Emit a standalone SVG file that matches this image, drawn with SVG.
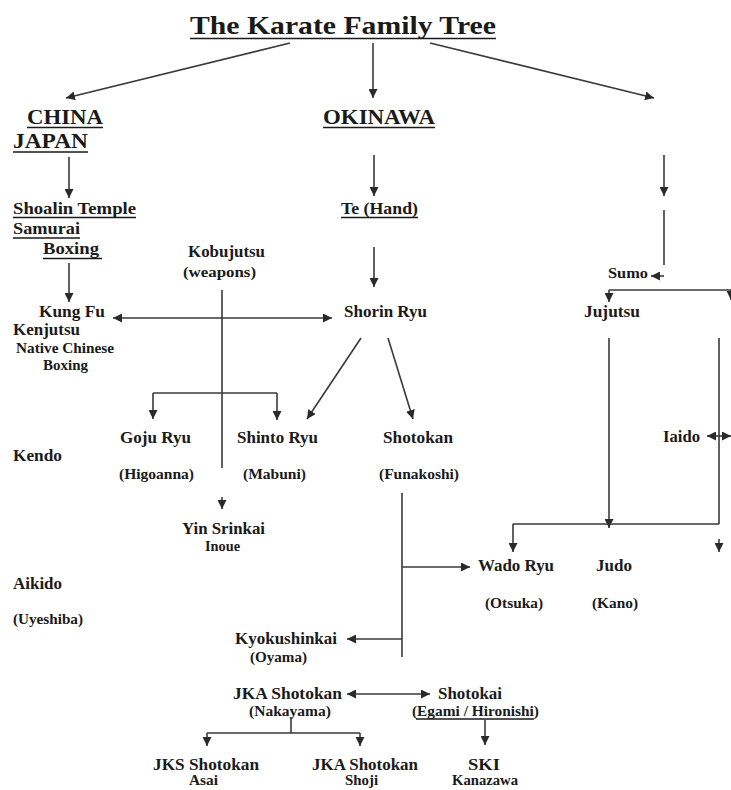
<svg xmlns="http://www.w3.org/2000/svg" width="731" height="790" viewBox="0 0 731 790">
<defs>
<marker id="ah" markerUnits="userSpaceOnUse" markerWidth="10" markerHeight="9" refX="9" refY="4.5" orient="auto-start-reverse" viewBox="0 0 10 9">
<path d="M0,0 L9,4.5 L0,9 z" fill="#2a2a2a"/>
</marker>
<style>
.t{font-family:"Liberation Serif","Times New Roman",serif;font-weight:bold;fill:#1a1a1a}
.h{font-size:25px}
.r{font-size:21px}
.m{font-size:17px}
.s{font-size:14px}
.u{stroke:#1a1a1a;stroke-width:1.6}
.c line,.c path{stroke:#3a3a3a;stroke-width:1.6;fill:none}
.a{marker-end:url(#ah)}
.d{marker-start:url(#ah);marker-end:url(#ah)}
</style>
</defs>
<rect width="731" height="790" fill="#fff"/>

<g id="title"><text class="t h" x="190" y="34" textLength="306" lengthAdjust="spacingAndGlyphs">The Karate Family Tree</text><line class="u" x1="190" y1="38.5" x2="496" y2="38.5"/></g>
<g id="china"><text class="t r" x="27" y="124" textLength="76" lengthAdjust="spacingAndGlyphs">CHINA</text><line class="u" x1="27" y1="127.5" x2="103" y2="127.5"/></g>
<g id="japan"><text class="t r" x="13" y="148" textLength="75" lengthAdjust="spacingAndGlyphs">JAPAN</text><line class="u" x1="13" y1="152" x2="88" y2="152"/></g>
<g id="okinawa"><text class="t r" x="323" y="124" textLength="112" lengthAdjust="spacingAndGlyphs">OKINAWA</text><line class="u" x1="323" y1="127.5" x2="435" y2="127.5"/></g>

<g id="shoalin"><text class="t m" x="13" y="214" textLength="123" lengthAdjust="spacingAndGlyphs">Shoalin Temple</text><line class="u" x1="13" y1="217.5" x2="136" y2="217.5"/>
<text class="t m" x="13" y="234" textLength="67" lengthAdjust="spacingAndGlyphs">Samurai</text><line class="u" x1="13" y1="238" x2="80" y2="238"/>
<text class="t m" x="43" y="254" textLength="56" lengthAdjust="spacingAndGlyphs">Boxing</text><line class="u" x1="43" y1="258.5" x2="102" y2="258.5"/></g>
<g id="te"><text class="t m" x="341" y="214" textLength="77" lengthAdjust="spacingAndGlyphs">Te (Hand)</text><line class="u" x1="341" y1="217.5" x2="418" y2="217.5"/></g>
<g id="kobujutsu"><text class="t m" x="188" y="257" textLength="77" lengthAdjust="spacingAndGlyphs">Kobujutsu</text><text class="t s" x="183" y="277" textLength="73" lengthAdjust="spacingAndGlyphs">(weapons)</text></g>
<g id="kungfu"><text class="t m" x="39" y="317" textLength="66" lengthAdjust="spacingAndGlyphs">Kung Fu</text><text class="t m" x="13" y="335" textLength="67" lengthAdjust="spacingAndGlyphs">Kenjutsu</text>
<text class="t s" x="16" y="353" textLength="98" lengthAdjust="spacingAndGlyphs">Native Chinese</text><text class="t s" x="43" y="370" textLength="45" lengthAdjust="spacingAndGlyphs">Boxing</text></g>
<g id="shorin"><text class="t m" x="344" y="317" textLength="83" lengthAdjust="spacingAndGlyphs">Shorin Ryu</text></g>
<g id="sumo"><text class="t s" x="608" y="278" textLength="40" lengthAdjust="spacingAndGlyphs">Sumo</text></g>
<g id="jujutsu"><text class="t m" x="584" y="317" textLength="56" lengthAdjust="spacingAndGlyphs">Jujutsu</text></g>
<g id="goju"><text class="t m" x="120" y="443" textLength="71" lengthAdjust="spacingAndGlyphs">Goju Ryu</text><text class="t s" x="119" y="479" textLength="75" lengthAdjust="spacingAndGlyphs">(Higoanna)</text></g>
<g id="shinto"><text class="t m" x="237" y="443" textLength="81" lengthAdjust="spacingAndGlyphs">Shinto Ryu</text><text class="t s" x="243" y="479" textLength="63" lengthAdjust="spacingAndGlyphs">(Mabuni)</text></g>
<g id="shotokan"><text class="t m" x="383" y="443" textLength="70" lengthAdjust="spacingAndGlyphs">Shotokan</text><text class="t s" x="379" y="479" textLength="80" lengthAdjust="spacingAndGlyphs">(Funakoshi)</text></g>
<g id="iaido"><text class="t m" x="663" y="442" textLength="37" lengthAdjust="spacingAndGlyphs">Iaido</text></g>
<g id="kendo"><text class="t m" x="13" y="461" textLength="49" lengthAdjust="spacingAndGlyphs">Kendo</text></g>
<g id="yin"><text class="t m" x="182" y="534" textLength="83" lengthAdjust="spacingAndGlyphs">Yin Srinkai</text><text class="t s" x="205" y="551" textLength="35" lengthAdjust="spacingAndGlyphs">Inoue</text></g>
<g id="wado"><text class="t m" x="478" y="571" textLength="76" lengthAdjust="spacingAndGlyphs">Wado Ryu</text><text class="t s" x="485" y="608" textLength="58" lengthAdjust="spacingAndGlyphs">(Otsuka)</text></g>
<g id="judo"><text class="t m" x="596" y="571" textLength="36" lengthAdjust="spacingAndGlyphs">Judo</text><text class="t s" x="592" y="608" textLength="46" lengthAdjust="spacingAndGlyphs">(Kano)</text></g>
<g id="aikido"><text class="t m" x="13" y="589" textLength="49" lengthAdjust="spacingAndGlyphs">Aikido</text><text class="t s" x="13" y="624" textLength="70" lengthAdjust="spacingAndGlyphs">(Uyeshiba)</text></g>
<g id="kyokushinkai"><text class="t m" x="235" y="644" textLength="102" lengthAdjust="spacingAndGlyphs">Kyokushinkai</text><text class="t s" x="250" y="662" textLength="57" lengthAdjust="spacingAndGlyphs">(Oyama)</text></g>
<g id="jka"><text class="t m" x="233" y="699" textLength="109" lengthAdjust="spacingAndGlyphs">JKA Shotokan</text><text class="t s" x="249" y="716" textLength="82" lengthAdjust="spacingAndGlyphs">(Nakayama)</text></g>
<g id="shotokai"><text class="t m" x="438" y="699" textLength="64" lengthAdjust="spacingAndGlyphs">Shotokai</text><text class="t s" x="412" y="716" textLength="127" lengthAdjust="spacingAndGlyphs">(Egami / Hironishi)</text><line class="u" x1="416" y1="719" x2="534" y2="719"/></g>
<g id="jks-asai"><text class="t m" x="153" y="770" textLength="106" lengthAdjust="spacingAndGlyphs">JKS Shotokan</text><text class="t s" x="189" y="785" textLength="29" lengthAdjust="spacingAndGlyphs">Asai</text></g>
<g id="jka-shoji"><text class="t m" x="312" y="770" textLength="106" lengthAdjust="spacingAndGlyphs">JKA Shotokan</text><text class="t s" x="345" y="785" textLength="33" lengthAdjust="spacingAndGlyphs">Shoji</text></g>
<g id="ski"><text class="t m" x="468" y="770" textLength="32" lengthAdjust="spacingAndGlyphs">SKI</text><text class="t s" x="452" y="785" textLength="66" lengthAdjust="spacingAndGlyphs">Kanazawa</text></g>

<g id="connectors" class="c">
<line class="a" x1="290" y1="43" x2="66" y2="98"/>
<line class="a" x1="373" y1="43" x2="373" y2="98"/>
<line class="a" x1="430" y1="43" x2="654" y2="98"/>
<line class="a" x1="69" y1="157" x2="69" y2="198"/>
<line class="a" x1="374" y1="155" x2="374" y2="196"/>
<line class="a" x1="664" y1="155" x2="664" y2="196"/>
<line class="a" x1="69" y1="263" x2="69" y2="302"/>
<line class="a" x1="374" y1="247" x2="374" y2="287"/>
<line x1="664" y1="210" x2="664" y2="265"/>
<line class="a" x1="664" y1="276" x2="651" y2="276"/>
<line class="d" x1="113" y1="318" x2="332" y2="318"/>
<line x1="222" y1="290" x2="222" y2="468"/>
<path d="M153,393 H277"/>
<line class="a" x1="153" y1="393" x2="153" y2="419"/>
<line class="a" x1="277" y1="393" x2="277" y2="420"/>
<line class="a" x1="222" y1="497" x2="222" y2="509"/>
<line class="a" x1="361" y1="338" x2="307" y2="419"/>
<line class="a" x1="388" y1="338" x2="413" y2="419"/>
<line x1="402" y1="493" x2="402" y2="657"/>
<line class="a" x1="402" y1="567" x2="470" y2="567"/>
<line class="a" x1="402" y1="639" x2="347" y2="639"/>
<line class="d" x1="347" y1="694" x2="430" y2="694"/>
<path d="M291,717 V733 M207,733 H360"/>
<line class="a" x1="207" y1="733" x2="207" y2="746"/>
<line class="a" x1="360" y1="733" x2="360" y2="746"/>
<line class="a" x1="485" y1="720" x2="485" y2="745"/>
<path d="M609,290 H731"/>
<line class="a" x1="609" y1="290" x2="609" y2="302"/>
<line class="a" x1="731" y1="290" x2="731" y2="300"/>
<line class="a" x1="609" y1="338" x2="609" y2="528"/>
<path d="M719,338 V524 M513,524 H719"/>
<line class="a" x1="513" y1="524" x2="513" y2="552"/>
<line class="a" x1="719" y1="539" x2="719" y2="552"/>
<line class="d" x1="707" y1="436" x2="731" y2="436"/>
</g>
</svg>
